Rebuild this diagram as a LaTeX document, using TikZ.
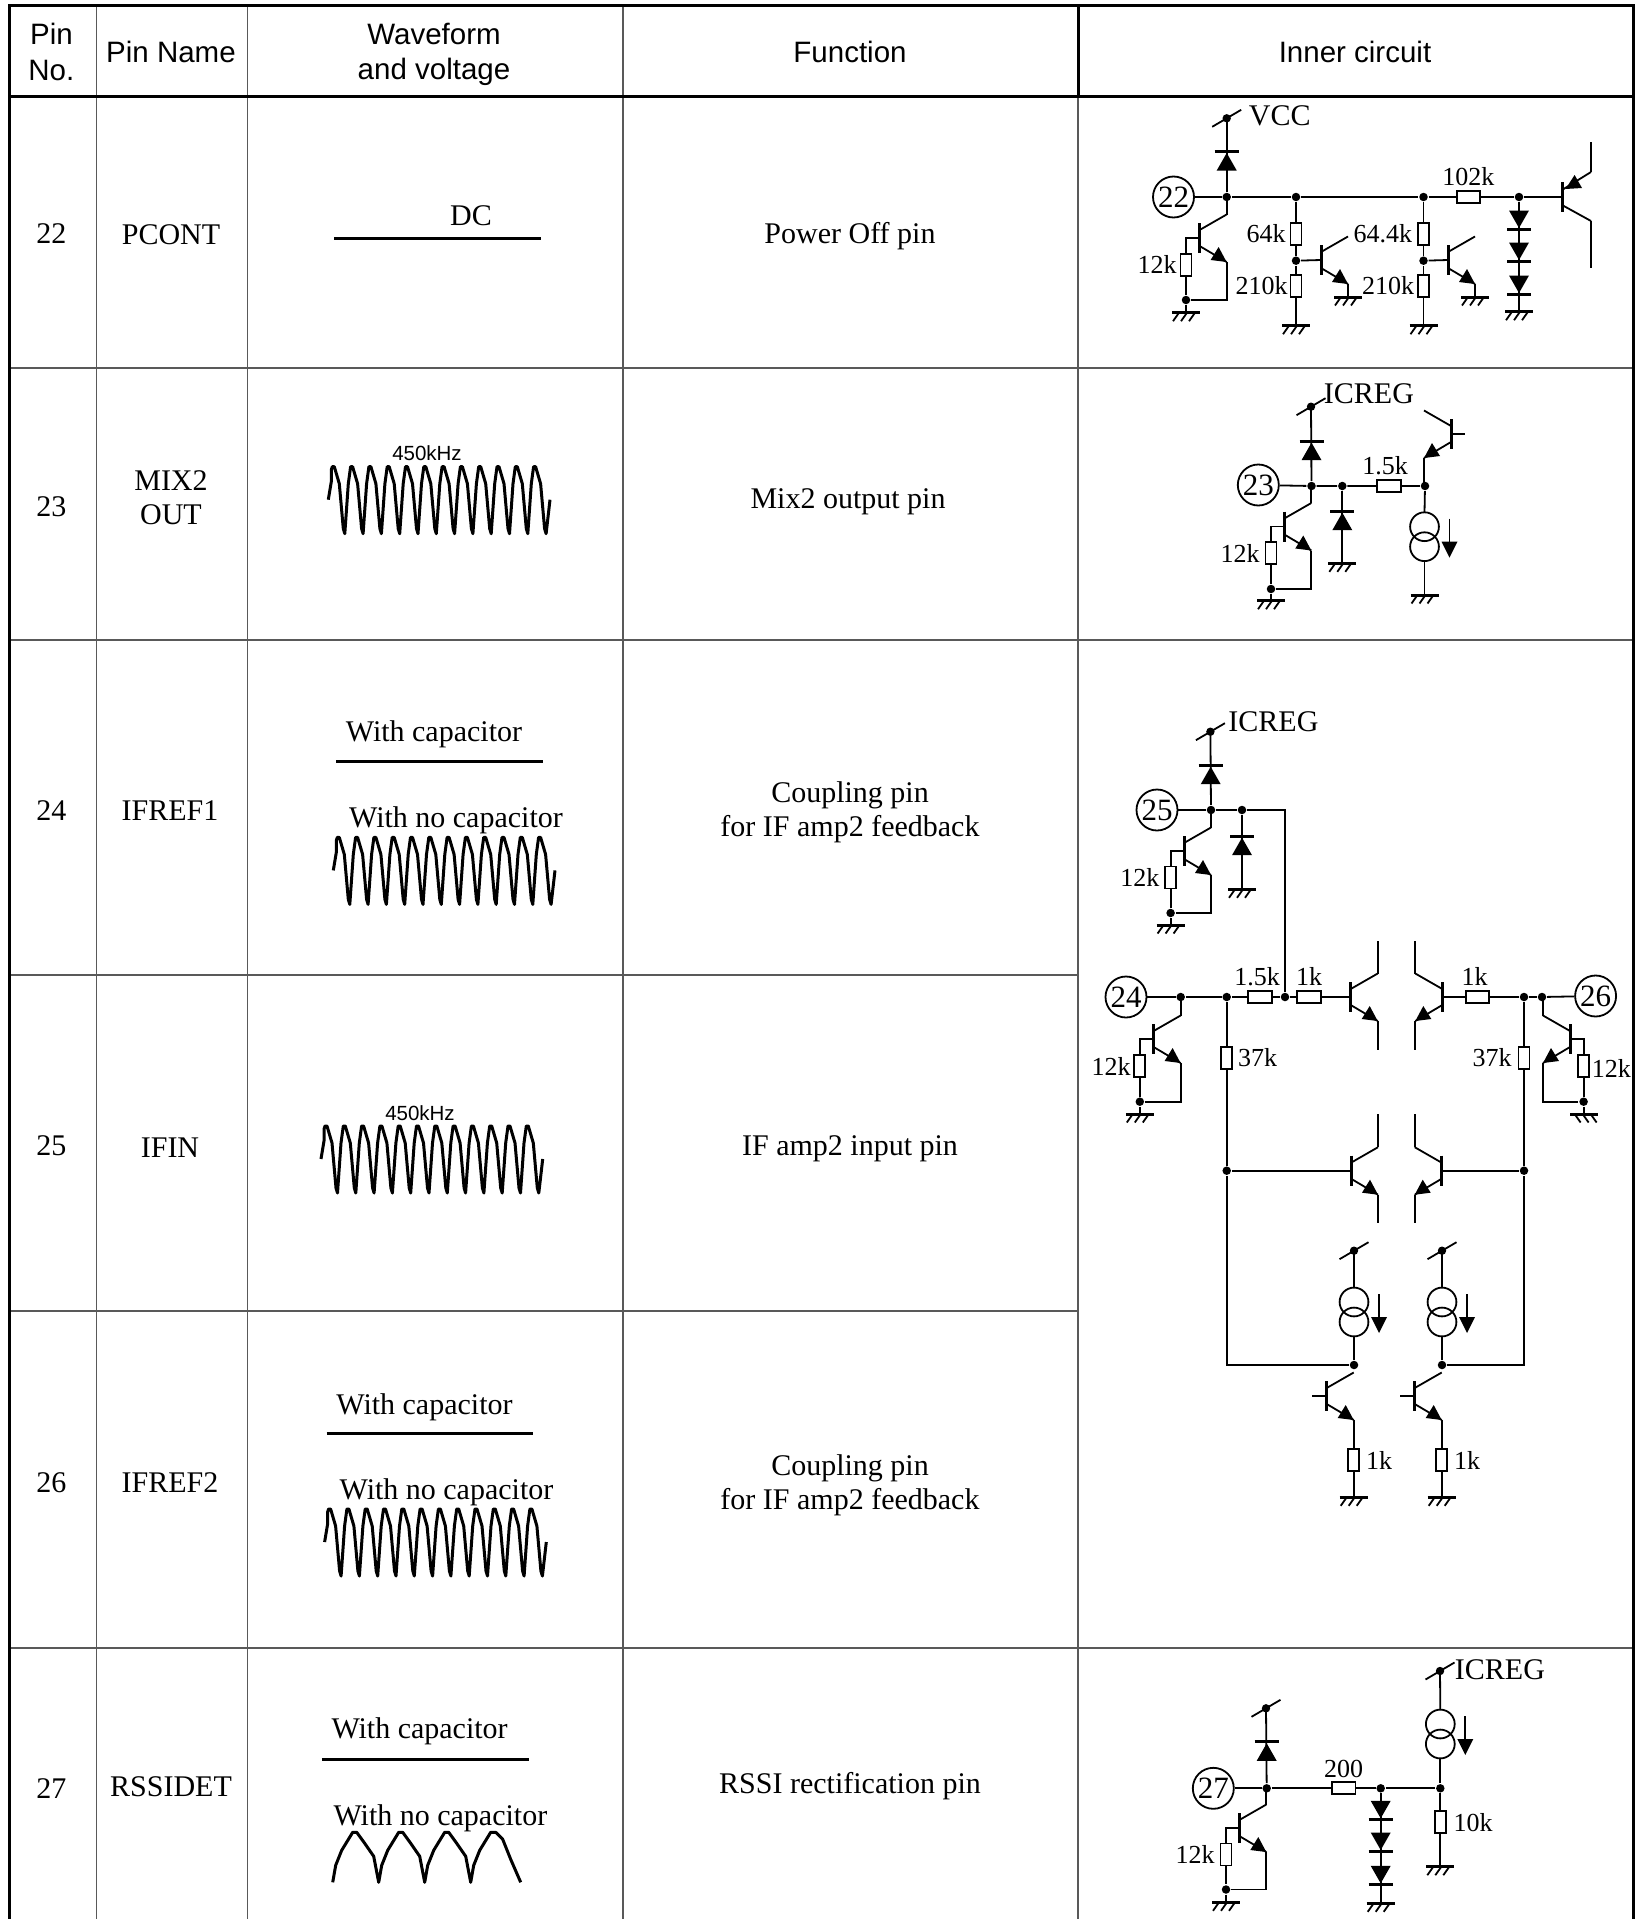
\documentclass[tikz,border=0pt]{standalone}
\usepackage{fontspec}
\usepackage{xcolor}
\usepackage{tikz}
\usetikzlibrary{positioning,calc}
\setmainfont{Liberation Serif}
\setsansfont{Liberation Sans}

\tikzset{
  rule/.style={line width=1.2pt, draw=black!65},
  heavy/.style={line width=3pt, line cap=rect},
  barline/.style={line width=3pt},
  trace/.style={line width=3pt, line join=round},
  cell/.style={font=\fontsize{30}{34.5}\selectfont, align=center, inner sep=0pt},
  head/.style={font=\sffamily\fontsize{29.5}{35.5}\selectfont, align=center, inner sep=0pt},
  val/.style={font=\fontsize{26}{30}\selectfont, inner sep=0pt},
  supply/.style={font=\fontsize{30}{34}\selectfont, inner sep=0pt},
  freq/.style={font=\sffamily\fontsize{20.5}{24}\selectfont, inner sep=0pt},
  dot/.style={circle, fill=black, inner sep=0pt, minimum size=8.5pt},
  pinno/.style={circle, draw, inner sep=0pt, minimum size=41pt, font=\fontsize{31}{34}\selectfont},
  res/.style={rectangle, draw, fill=white, inner sep=0pt, minimum width=11pt, minimum height=22pt},
  resh/.style={rectangle, draw, fill=white, inner sep=0pt, minimum width=23.5pt, minimum height=12pt},
  npn/.pic={
    \draw[barline] (0,-15) -- (0,15);
    \draw (0,-8) -- (27,-23.5);
    \draw (0,8) -- (27,24);
    \fill (27,24) -- (19,9) -- (11,22) -- cycle;
    \coordinate (-b) at (0,0);
    \coordinate (-c) at (27,-23.5);
    \coordinate (-e) at (27,24);
  },
  pnpq/.pic={
    \draw[barline] (0,-15) -- (0,15);
    \draw (0,-7) -- (29,-25);
    \draw (0,8) -- (29,24);
    \fill (3.5,-8) -- (12.6,-22) -- (20,-9) -- cycle;
    \coordinate (-b) at (0,0);
    \coordinate (-c) at (29,24);
    \coordinate (-e) at (29,-25);
  },
  diode/.pic={
    \draw[barline] (-12,-1.5) -- (12,-1.5);
    \fill (0,0) -- (-10,17.5) -- (10,17.5) -- cycle;
  },
  gnd/.pic={
    \coordinate (-o) at (0,0);
    \draw[barline] (-14,0) -- (14,0);
    \foreach \s in {-7,1,9} \draw (\s,0) -- ++(-6,8.5);
  },
  rail/.pic={
    \coordinate (-o) at (0,0);
    \fill (0,0) circle (4.2);
    \draw (-14.5,8.5) -- (14.5,-8.5);
  },
  isrc/.pic={
    \coordinate (-t) at (0,-24.3);
    \coordinate (-b) at (0,24.3);
    \draw (0,-10) circle (14.4);
    \draw (0,10) circle (14.4);
    \draw (25,-18) -- (25,6);
    \fill (17,5) -- (33,5) -- (25,21) -- cycle;
  },
  wave/.pic={
    \draw[trace] (-5,33) -- (-2,15) -- (-2,3)
      \foreach \i in {0,...,10}{ -- ({18.3*\i-1},0) -- ({18.3*\i+1},0) -- ({18.3*\i+6},17)
        -- ({18.3*\i+10},62) -- ({18.3*\i+11.5},67) -- ({18.3*\i+15},17) }
      -- (200.3,0) -- (202.3,0) -- (207.3,17) -- (211.3,62) -- (212.8,67) -- (216.7,33);
  },
  arches/.pic={
    \draw[trace] (0,50)
      \foreach \i in {0,...,2}{ -- ({46*\i+3},33) -- ({46*\i+9},18) -- ({46*\i+20},0) -- ({46*\i+24},0)
        -- ({46*\i+32},11) -- ({46*\i+41},24) -- ({46*\i+46},50) }
      -- (141,33) -- (147,18) -- (158,0) -- (163,0) -- (170,7) -- (178,27) -- (188,50);
  },
}

\begin{document}
\begin{tikzpicture}[x=1pt, y=-1pt, line width=1.8pt]
  \useasboundingbox (0,0) rectangle (1648,1919);

  % table
  \foreach \x in {96.7,247.3,623} \draw[rule] (\x,6) -- (\x,1919);
  \draw[rule] (1078,96.6) -- (1078,1919);
  \foreach \y in {368,640,1648} \draw[rule] (9,\y) -- (1633,\y);
  \foreach \y in {975,1311} \draw[rule] (9,\y) -- (1078,\y);
  \draw[heavy] (1078,6) -- (1078,96.6);
  \draw[heavy] (9,96.6) -- (1633,96.6);
  \draw[heavy] (9,1919) -- (9,6) -- (1633,6) -- (1633,1919);

  \node[head] (hno) at (51.4,52) {Pin\\No.};
  \node[head] (hname) at (171,52) {Pin Name};
  \node[head] (hwave) at (434,54.5) {Waveform\\and voltage};
  \node[head] (hfunc) at (850,52) {Function};
  \node[head] (hinner) at (1355,52) {Inner circuit};

  \foreach \n/\y in {22/233.4,23/506.3,24/811,25/1146,26/1482.5,27/1788.4}
    \node[cell] (no\n) at (51.4,\y) {\n};

  \node[cell] (name22) at (171,234.7) {PCONT};
  \node[cell] (name23) at (171,497.7) {MIX2\\OUT};
  \node[cell] (name24) at (170,811) {IFREF1};
  \node[cell] (name25) at (170,1147.3) {IFIN};
  \node[cell] (name26) at (170,1482.5) {IFREF2};
  \node[cell] (name27) at (171,1787) {RSSIDET};

  \node[cell] (func22) at (850,236) {Power Off pin};
  \node[cell] (func23) at (848,502) {Mix2 output pin};
  \node[cell] (func24) at (850,812.5) {Coupling pin\\for IF amp2 feedback};
  \node[cell] (func25) at (850,1148.8) {IF amp2 input pin};
  \node[cell] (func26) at (850,1485.5) {Coupling pin\\for IF amp2 feedback};
  \node[cell] (func27) at (850,1786.5) {RSSI rectification pin};

  % waveforms
  \node[cell] (dc22) at (471,215.5) {DC};
  \draw[trace] (334,238.6) -- (540.7,238.6);
  \node[freq] (f23) at (427,452.7) {450kHz};
  \pic at (333.3,466.7) {wave};
  \node[cell] (cap24) at (434,734) {With capacitor};
  \draw[trace] (336.4,761) -- (543,761);
  \node[cell] (nocap24) at (456,820) {With no capacitor};
  \pic at (338.3,837.4) {wave};
  \node[freq] (f25) at (420,1113.5) {450kHz};
  \pic at (326,1126) {wave};
  \node[cell] (cap26) at (424.5,1407) {With capacitor};
  \draw[trace] (326.6,1433.8) -- (533.4,1433.8);
  \node[cell] (nocap26) at (446.5,1492.5) {With no capacitor};
  \pic at (329.6,1509) {wave};
  \node[cell] (cap27) at (419.6,1731.5) {With capacitor};
  \draw[trace] (321.8,1759.3) -- (528.5,1759.3);
  \node[cell] (nocap27) at (440.4,1818) {With no capacitor};
  \pic at (332.7,1832.3) {arches};

  % pin 22
  \pic (a0) at (1226.7,118.3) {rail};
  \node[supply, anchor=west] (vcc) at (1248,116) {VCC};
  \node[pinno] (p22) at (1173.5,197) {22};
  \node[dot] (a1) at (1226.7,197) {};
  \node[dot] (a2) at (1296,197) {};
  \node[dot] (a3) at (1423.5,197) {};
  \node[resh] (ra1) at (1468.4,197) {};
  \node[val, above=3pt of ra1] (ra1l) {102k};
  \node[dot] (a4) at (1519,197) {};
  \pic (qa5) at (1562,197) {pnpq};
  \coordinate (a5c) at (1591,268);
  \coordinate (a5e) at (1591,142);
  \draw (p22) -- (a1) -- (a2) -- (a3) -- (ra1) -- (a4) -- (qa5-b);
  \draw (qa5-c) -- (a5c);
  \draw (qa5-e) -- (a5e);
  \draw (a0-o) -- (a1);
  \pic at (1226.7,153) {diode};
  \pic (qa1) at (1199.6,238) {npn};
  \node[res] (ra2) at (1186,264.7) {};
  \node[val, left=2pt of ra2] (ra2l) {12k};
  \node[dot] (a6) at (1186,300) {};
  \pic (ga1) at (1186,312.7) {gnd};
  \draw (qa1-c) -- (qa1-c |- a1);
  \draw (qa1-b) -| (ra2.north);
  \draw (ra2) -- (a6) -- (ga1-o);
  \draw (qa1-e) |- (a6);
  \node[res] (ra3) at (1296,234) {};
  \node[val, left=3pt of ra3] (ra3l) {64k};
  \node[dot] (a7) at (1296,260.7) {};
  \node[res] (ra4) at (1296,286) {};
  \node[val, left=1pt of ra4] (ra4l) {210k};
  \pic (ga2) at (1296,325.7) {gnd};
  \pic (qa2) at (1321,260) {npn};
  \pic (ga3) at (1348,297) {gnd};
  \draw (a2) -- (ra3) -- (a7) -- (ra4) -- (ga2-o);
  \draw (a7) -- (qa2-b);
  \draw (qa2-e) -- (ga3-o);
  \node[res] (ra5) at (1423.5,234) {};
  \node[val, left=4pt of ra5] (ra5l) {64.4k};
  \node[dot] (a8) at (1423.5,260.7) {};
  \node[res] (ra6) at (1423.5,286) {};
  \node[val, left=2pt of ra6] (ra6l) {210k};
  \pic (ga4) at (1423.5,325.7) {gnd};
  \pic (qa3) at (1448,260) {npn};
  \pic (ga5) at (1475,297) {gnd};
  \draw (a3) -- (ra5) -- (a8) -- (ra6) -- (ga4-o);
  \draw (a8) -- (qa3-b);
  \draw (qa3-e) -- (ga5-o);
  \pic (ga6) at (1519,311.7) {gnd};
  \draw (a4) -- (ga6-o);
  \pic[yscale=-1] at (1519,228) {diode};
  \pic[yscale=-1] at (1519,260) {diode};
  \pic[yscale=-1] at (1519,293) {diode};

  % pin 23
  \pic (b0) at (1311,406.7) {rail};
  \node[supply, anchor=west] (icreg23) at (1323,394) {ICREG};
  \node[pinno] (p23) at (1258.3,485) {23};
  \node[dot] (b1) at (1311.5,486) {};
  \node[dot] (b2) at (1342.3,486) {};
  \node[resh] (rb1) at (1389,486) {};
  \node[val, above=3pt of rb1, xshift=-4pt] (rb1l) {1.5k};
  \node[dot] (b3) at (1425,486) {};
  \draw (p23) -- (b1) -- (b2) -- (rb1) -- (b3);
  \draw (b0-o) -- (b1);
  \pic at (1311.5,442.7) {diode};
  \pic (gb1) at (1342.3,563.3) {gnd};
  \draw (b2) -- (gb1-o);
  \pic at (1342.3,512.7) {diode};
  \pic[xscale=-1] (qb1) at (1451,434) {npn};
  \coordinate (b4) at (1465,434);
  \draw (qb1-b) -- (b4);
  \draw (qb1-e) -- (qb1-e |- b3);
  \pic (ib1) at (1424.5,536.7) {isrc};
  \pic (gb2) at (1424.5,595) {gnd};
  \draw (b3) -- (ib1-t);
  \draw (ib1-b) -- (gb2-o);
  \pic (qb2) at (1284.3,526.5) {npn};
  \node[res] (rb2) at (1271,553) {};
  \node[val, left=4pt of rb2] (rb2l) {12k};
  \node[dot] (b5) at (1271,589) {};
  \pic (gb3) at (1271,600.7) {gnd};
  \draw (qb2-c) -- (qb2-c |- b1);
  \draw (qb2-b) -| (rb2.north);
  \draw (rb2) -- (b5) -- (gb3-o);
  \draw (qb2-e) |- (b5);

  % pins 24, 25, 26
  \pic (c0) at (1210.4,731.7) {rail};
  \node[supply, anchor=west] (icreg25) at (1227.5,722) {ICREG};
  \node[pinno] (p25) at (1157,810) {25};
  \node[dot] (c1) at (1211,810) {};
  \node[dot] (c2) at (1242,810) {};
  \node[dot] (c3) at (1285,997) {};
  \draw (c0-o) -- (c1);
  \pic at (1210.7,766.7) {diode};
  \draw (p25) -- (c1) -- (c2) -| (c3);
  \pic (gc1) at (1242,889.3) {gnd};
  \draw (c2) -- (gc1-o);
  \pic at (1242,837.7) {diode};
  \pic (qc1) at (1184,851) {npn};
  \node[res] (rc1) at (1170.6,877.5) {};
  \node[val, left=4pt of rc1] (rc1l) {12k};
  \node[dot] (c4) at (1170.6,913) {};
  \pic (gc2) at (1170.6,925) {gnd};
  \draw (qc1-c) -- (qc1-c |- c1);
  \draw (qc1-b) -| (rc1.north);
  \draw (rc1) -- (c4) -- (gc2-o);
  \draw (qc1-e) |- (c4);

  \node[pinno] (p24) at (1126,997) {24};
  \node[dot] (c5) at (1180.7,997) {};
  \node[dot] (c6) at (1226.7,997) {};
  \node[resh] (rc2) at (1260,997) {};
  \node[val, above=3pt of rc2, xshift=-3pt] (rc2l) {1.5k};
  \node[resh] (rc3) at (1309,997) {};
  \node[val, above=4pt of rc3] (rc3l) {1k};
  \pic (qc2) at (1350.7,997) {npn};
  \draw (p24) -- (c5) -- (c6) -- (rc2) -- (c3) -- (rc3) -- (qc2-b);
  \coordinate (c7) at (1377.7,941);
  \coordinate (c8) at (1377.7,1050);
  \draw (qc2-c) -- (c7);
  \draw (qc2-e) -- (c8);
  \pic[xscale=-1] (qc3) at (1442.3,997) {npn};
  \coordinate (c9) at (1415.3,941);
  \coordinate (c10) at (1415.3,1050);
  \draw (qc3-c) -- (c9);
  \draw (qc3-e) -- (c10);
  \node[pinno] (p26) at (1595.6,996) {26};
  \node[dot] (c11) at (1542,997) {};
  \node[dot] (c12) at (1524,997) {};
  \node[resh] (rc4) at (1477.5,997) {};
  \node[val, above=4pt of rc4, xshift=-3pt] (rc4l) {1k};
  \draw (p26) -- (c11) -- (c12) -- (rc4) -- (qc3-b);

  \pic (qc4) at (1153.6,1039) {npn};
  \node[res] (rc5) at (1139.8,1066) {};
  \node[val, left=2pt of rc5] (rc5l) {12k};
  \node[dot] (c13) at (1139.8,1101.7) {};
  \pic (gc3) at (1139.8,1114) {gnd};
  \draw (qc4-c) -- (qc4-c |- c5);
  \draw (qc4-b) -| (rc5.north);
  \draw (rc5) -- (c13) -- (gc3-o);
  \draw (qc4-e) |- (c13);
  \pic[xscale=-1] (qc5) at (1570,1039) {npn};
  \node[res] (rc6) at (1583.6,1066) {};
  \node[val, right=1pt of rc6, yshift=-2pt] (rc6l) {12k};
  \node[dot] (c14) at (1583.6,1101.7) {};
  \pic[xscale=-1] (gc4) at (1583.6,1114) {gnd};
  \draw (qc5-c) -- (qc5-c |- c11);
  \draw (qc5-b) -| (rc6.north);
  \draw (rc6) -- (c14) -- (gc4-o);
  \draw (qc5-e) |- (c14);

  \node[res] (rc7) at (1226.7,1058) {};
  \node[val, right=4pt of rc7] (rc7l) {37k};
  \node[dot] (c15) at (1226.7,1170.7) {};
  \node[res] (rc8) at (1524,1058) {};
  \node[val, left=5pt of rc8] (rc8l) {37k};
  \node[dot] (c16) at (1524,1170.7) {};
  \draw (c6) -- (rc7) -- (c15);
  \draw (c12) -- (rc8) -- (c16);

  \pic (qc6) at (1351,1170.7) {npn};
  \coordinate (c17) at (1378,1114);
  \coordinate (c18) at (1378,1223);
  \draw (c15) -- (qc6-b);
  \draw (qc6-c) -- (c17);
  \draw (qc6-e) -- (c18);
  \pic[xscale=-1] (qc7) at (1441.7,1170.7) {npn};
  \coordinate (c19) at (1414.7,1114);
  \coordinate (c20) at (1414.7,1223);
  \draw (c16) -- (qc7-b);
  \draw (qc7-c) -- (c19);
  \draw (qc7-e) -- (c20);

  \pic (c21) at (1354,1250.7) {rail};
  \pic (c22) at (1442,1250.7) {rail};
  \pic (ic1) at (1354,1312) {isrc};
  \pic (ic2) at (1442,1312) {isrc};
  \node[dot] (c23) at (1354,1365) {};
  \node[dot] (c24) at (1442,1365) {};
  \draw (c21-o) -- (ic1-t);
  \draw (c22-o) -- (ic2-t);
  \draw (ic1-b) -- (c23);
  \draw (ic2-b) -- (c24);
  \draw (c15) |- (c23);
  \draw (c16) |- (c24);

  \pic (qc8) at (1326.7,1396) {npn};
  \pic (qc9) at (1414.7,1396) {npn};
  \coordinate (c25) at (1312.3,1396);
  \coordinate (c26) at (1400.3,1396);
  \draw (qc8-b) -- (c25);
  \draw (qc9-b) -- (c26);
  \node[res] (rc9) at (1353.7,1460) {};
  \node[val, right=5pt of rc9] (rc9l) {1k};
  \node[res] (rc10) at (1441.7,1460) {};
  \node[val, right=5pt of rc10] (rc10l) {1k};
  \pic (gc5) at (1353.7,1497.3) {gnd};
  \pic (gc6) at (1441.7,1497.3) {gnd};
  \draw (qc8-e) -- (rc9) -- (gc5-o);
  \draw (qc9-e) -- (rc10) -- (gc6-o);

  % pin 27
  \pic (d0) at (1266,1708.3) {rail};
  \node[pinno] (p27) at (1213.3,1788.3) {27};
  \node[dot] (d1) at (1266.7,1788.3) {};
  \node[resh] (rd1) at (1343.7,1788.3) {};
  \node[val, above=3pt of rd1] (rd1l) {200};
  \node[dot] (d2) at (1380.7,1788.3) {};
  \node[dot] (d3) at (1440.3,1788.3) {};
  \draw (p27) -- (d1) -- (rd1) -- (d2) -- (d3);
  \draw (d0-o) -- (d1);
  \pic at (1266.7,1743.3) {diode};
  \pic (gd1) at (1380.7,1903.3) {gnd};
  \draw (d2) -- (gd1-o);
  \pic[yscale=-1] at (1380.7,1818.3) {diode};
  \pic[yscale=-1] at (1380.7,1850) {diode};
  \pic[yscale=-1] at (1380.7,1883.3) {diode};
  \pic (d4) at (1440,1671) {rail};
  \node[supply, anchor=west] (icreg27) at (1454,1669.3) {ICREG};
  \pic (id1) at (1440.3,1734) {isrc};
  \draw (d4-o) -- (id1-t);
  \draw (id1-b) -- (d3);
  \node[res] (rd2) at (1440.3,1822.3) {};
  \node[val, right=6pt of rd2] (rd2l) {10k};
  \pic (gd2) at (1440.3,1866.7) {gnd};
  \draw (d3) -- (rd2) -- (gd2-o);
  \pic (qd1) at (1239.3,1828) {npn};
  \node[res] (rd3) at (1226,1854.5) {};
  \node[val, left=4pt of rd3] (rd3l) {12k};
  \node[dot] (d5) at (1226,1889.5) {};
  \pic (gd3) at (1226,1902.3) {gnd};
  \draw (qd1-c) -- (qd1-c |- d1);
  \draw (qd1-b) -| (rd3.north);
  \draw (rd3) -- (d5) -- (gd3-o);
  \draw (qd1-e) |- (d5);
\end{tikzpicture}
\end{document}
